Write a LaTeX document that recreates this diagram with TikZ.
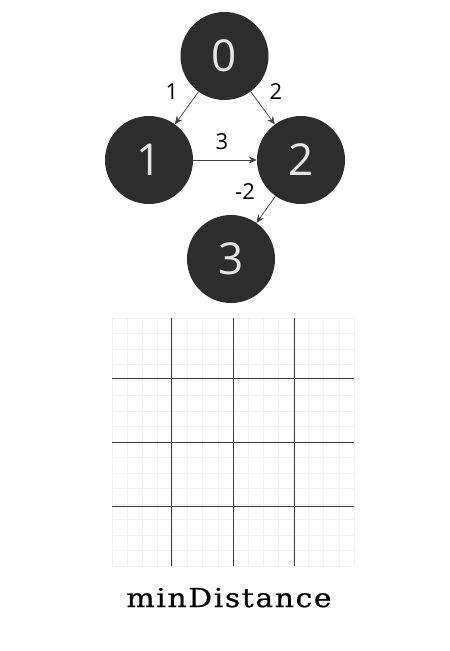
\documentclass[tikz,border=0pt]{standalone}
\usepackage{fontspec}
\setmainfont{DejaVu Serif}
\newfontfamily\capfont[FakeStretch=1.15,LetterSpace=6,FakeBold=0.6]{DejaVu Serif}
\newfontfamily\digitfont{Open Sans}
\newfontfamily\labelfont{Open Sans}
\usetikzlibrary{arrows.meta}
\definecolor{nodefill}{HTML}{2D2D2D}
\definecolor{digit}{HTML}{E6E6E6}
\definecolor{edgecol}{HTML}{404040}
\definecolor{faint}{HTML}{F0F0F0}
\definecolor{gridline}{HTML}{3A3A3A}
\tikzset{
  vertex/.style={circle,fill=nodefill,minimum size=88pt,inner sep=0pt,text=digit,font=\digitfont\fontsize{44}{44}\selectfont},
  edge/.style={draw=edgecol,line width=0.7pt,-{Stealth[length=8pt,width=7pt]}},
  wlabel/.style={font=\labelfont\fontsize{22}{22}\selectfont,text=black,inner sep=0pt},
  major/.style={draw=gridline,line width=1pt},
  minor/.style={draw=faint,line width=0.6pt}
}
\begin{document}
\begin{tikzpicture}[x=1pt,y=-1pt]
\useasboundingbox[fill=white] (0,0) rectangle (450,651);
% graph
\node[vertex] (n0) at (224.5,56) {0};
\node[vertex] (n1) at (149,160) {1};
\node[vertex] (n2) at (301,160) {2};
\node[vertex] (n3) at (231,259) {3};
\draw[edge] (n0) -- (n1);
\draw[edge] (n0) -- (n2);
\draw[edge] (n1) -- (n2);
\draw[edge] (n2) -- (n3);
\node[wlabel] (l01) at (172,92) {1};
\node[wlabel] (l02) at (276,92) {2};
\node[wlabel] (l12) at (222,142) {3};
\node[wlabel] (l23) at (245,192) {-2};
% faint grid
\foreach \i in {0,...,16} {
  \draw[minor] ({112+\i*15.125},318) -- ({112+\i*15.125},566);
  \draw[minor] (112,{318+\i*15.5}) -- (354,{318+\i*15.5});
}
% major grid
\foreach \x in {171,233,294} \draw[major] (\x,318) -- (\x,566);
\foreach \y in {378,442,506} \draw[major] (112,\y) -- (354,\y);
% caption
\node[font=\capfont\fontsize{26}{26}\selectfont,inner sep=0pt,anchor=base] (cap) at (229,607) {minDistance};
\end{tikzpicture}
\end{document}
